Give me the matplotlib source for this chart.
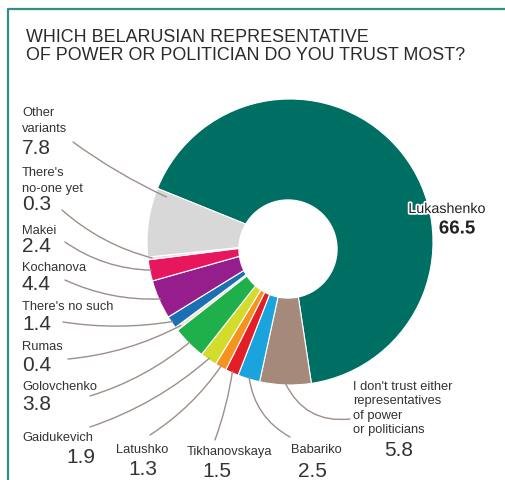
import matplotlib.pyplot as plt
import matplotlib.patheffects as pe
import numpy as np

plt.rcParams['font.family'] = ['Liberation Sans', 'DejaVu Sans']

names = ['Lukashenko', "I don't trust either\nrepresentatives\nof power\nor politicians",
         'Babariko', 'Tikhanovskaya', 'Latushko', 'Gaidukevich', 'Golovchenko',
         'Rumas', "There's no such", 'Kochanova', 'Makei', "There's\nno-one yet",
         'Other\nvariants']
values = [66.5, 5.8, 2.5, 1.5, 1.3, 1.9, 3.8, 0.4, 1.4, 4.4, 2.4, 0.3, 7.8]
colors = ['#006f63', '#a58a7c', '#1aa3dd', '#e31e26', '#f6921e', '#d3dc2a', '#1fb04b',
          '#eeeacd', '#1b70b5', '#961e8c', '#e8175d', '#f0d6dc', '#d8d8d8']
title_lines = ['WHICH BELARUSIAN REPRESENTATIVE', 'OF POWER OR POLITICIAN DO YOU TRUST MOST?']

W, H = 506, 481
fig = plt.figure(figsize=(W / 100, H / 100), dpi=100)
ax = fig.add_axes([0, 0, 1, 1])

def py(y):
    # pixel row -> data y
    return H - y

START = 158
cx, cy, R = 290, py(243), 143
ax.pie(values, colors=colors, startangle=START, counterclock=False,
       center=(cx, cy), radius=R, frame=True,
       wedgeprops=dict(edgecolor='white', linewidth=0.8))
# the hole sits a little below-left of the pie centre in the original
ax.add_patch(plt.Circle((288, py(250)), 49, color='white', zorder=5))
ax.set_xlim(0, W)
ax.set_ylim(0, H)
ax.set_aspect('equal')
ax.axis('off')

# frame lines
ax.plot([8, 8, W], [0, py(10), py(10)], color='#2f8f86', lw=1.6, solid_capstyle='butt')

for i, line in enumerate(title_lines):
    ax.text(26, py(38 + 18 * i), line, fontsize=12.9, color='#2b2b2b',
            va='center', ha='left')

# label layout: name (x, first line y), number (x, y), leader start, ha, curvature,
# position of leader end inside wedge (fraction of wedge angle, fraction of radius)
layout = {
    'Other\nvariants':      ((22, 113), (22, 149), (73, 143), 'left', 0.05, 0.93, 0.92),
    "There's\nno-one yet":  ((22, 173), (22, 205), (62, 211), 'left', 0.12, 0.5, 0.97),
    'Makei':                ((22, 231), (22, 247), (65, 243), 'left', 0.15, 0.5, 0.99),
    'Kochanova':            ((22, 268), (22, 284), (65, 281), 'left', 0.12, 0.5, 0.99),
    "There's no such":      ((22, 307), (22, 325), (63, 323), 'left', 0.08, 0.5, 0.99),
    'Rumas':                ((22, 347), (22, 366), (68, 360), 'left', 0.1, 0.5, 0.96),
    'Golovchenko':          ((22, 387), (22, 405), (90, 397), 'left', 0.1, 0.5, 0.99),
    'Gaidukevich':          ((22, 438), (95, 458), (90, 428), 'left', 0.1, 0.5, 0.99),
    'Latushko':             ((142, 450), (143, 470), (150, 436), 'center', 0.1, 0.5, 0.99),
    'Tikhanovskaya':        ((229, 452), (217, 472), (215, 441), 'center', 0.05, 0.5, 0.99),
    'Babariko':             ((316, 450), (312, 472), (290, 438), 'center', -0.25, 0.5, 0.99),
    "I don't trust either\nrepresentatives\nof power\nor politicians":
                            ((353, 387), (384, 451), (350, 420), 'left', -0.35, 0.5, 0.99),
}

bounds = START - np.cumsum([0] + values) / sum(values) * 360

for k, (name, v) in enumerate(zip(names, values)):
    if name == 'Lukashenko':
        continue
    (nx, ny), (vx, vy), (lx, ly), ha, rad, fa, fr = layout[name]
    vha = 'right' if name == 'Gaidukevich' else ha
    step = 14.5 if name.startswith('I don') else 16
    for j, part in enumerate(name.split('\n')):
        ax.text(nx, py(ny + step * j), part, fontsize=9.3, color='#333333',
                ha=ha, va='center')
    ax.text(vx, py(vy), f'{v:.1f}', fontsize=15, color='#333333', ha=vha, va='center')
    a = np.deg2rad(bounds[k] + (bounds[k + 1] - bounds[k]) * fa)
    ex = cx + R * fr * np.cos(a)
    ey = cy + R * fr * np.sin(a)
    ax.annotate('', xy=(ex, ey), xytext=(lx, py(ly)),
                arrowprops=dict(arrowstyle='-', color='#9c8f88', lw=1.0,
                                shrinkA=0, shrinkB=0,
                                connectionstyle=f'arc3,rad={rad}'))

stroke = [pe.withStroke(linewidth=2.5, foreground='white')]
ax.text(447, py(210), names[0], fontsize=10.3, color='#222222', ha='center',
        va='center', path_effects=stroke, zorder=6)
ax.text(457, py(230), f'{values[0]:.1f}', fontsize=13.5, fontweight='bold',
        color='#222222', ha='center', va='center', path_effects=stroke, zorder=6)

fig.savefig('out.png', dpi=100)
